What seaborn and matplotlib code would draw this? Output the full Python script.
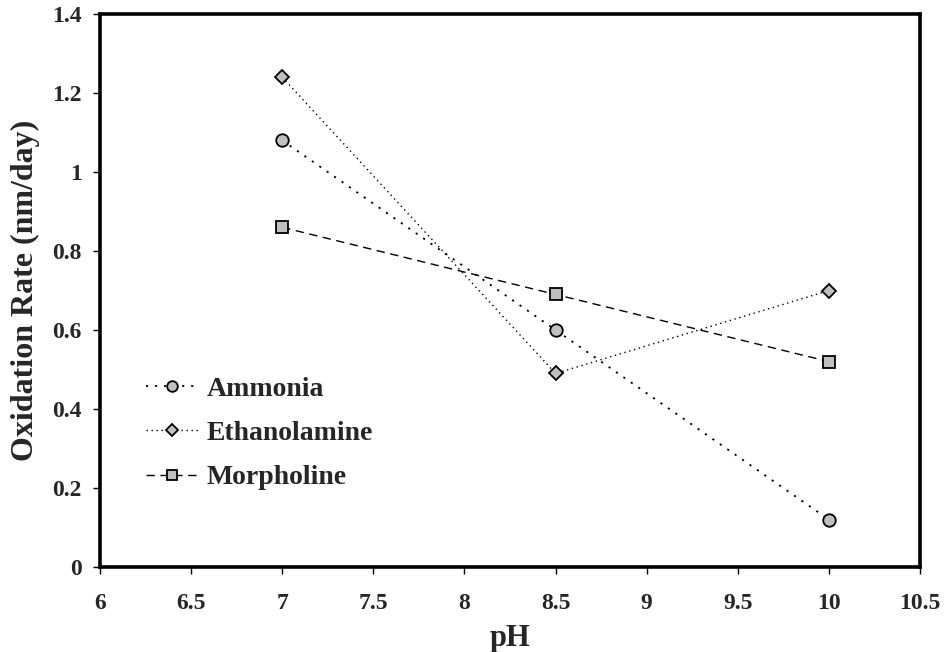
import matplotlib
matplotlib.use("Agg")
import matplotlib.pyplot as plt
import seaborn as sns
import pandas as pd

# Oxidation rate versus pH for three amine treatments
ph = [7.0, 8.5, 10.0]
ammonia = [1.08, 0.60, 0.12]
ethanolamine = [1.24, 0.49, 0.70]
morpholine = [0.86, 0.69, 0.52]

series_names = ["Ammonia", "Ethanolamine", "Morpholine"]
series_values = [ammonia, ethanolamine, morpholine]

x_ticks = [6, 6.5, 7, 7.5, 8, 8.5, 9, 9.5, 10, 10.5]
x_tick_labels = ["6", "6.5", "7", "7.5", "8", "8.5", "9", "9.5", "10", "10.5"]
y_ticks = [0, 0.2, 0.4, 0.6, 0.8, 1.0, 1.2, 1.4]
y_tick_labels = ["0", "0.2", "0.4", "0.6", "0.8", "1", "1.2", "1.4"]

sns.set_theme(style="white")
plt.rcParams["font.family"] = ["Liberation Serif", "DejaVu Serif"]
plt.rcParams["font.weight"] = "bold"

styles = {
    "Ammonia": dict(marker="o", markersize=9, linestyle=(0, (1.2, 3.8)), linewidth=1.3),
    "Ethanolamine": dict(marker="D", markersize=7, linestyle=(0, (1.0, 2.6)), linewidth=1.0),
    "Morpholine": dict(marker="s", markersize=9, linestyle=(0, (6, 4)), linewidth=1.0),
}

fig = plt.figure(figsize=(9.44, 6.52), dpi=100)
ax = fig.add_axes([100 / 944, 1 - 567 / 652, 820 / 944, 553 / 652])

for name, vals in zip(series_names, series_values):
    df = pd.DataFrame({"pH": ph, "rate": vals})
    st = styles[name]
    sns.lineplot(
        data=df, x="pH", y="rate", ax=ax, color="black",
        marker=st["marker"], markersize=st["markersize"],
        markerfacecolor="#c0c0c0", markeredgecolor="black", markeredgewidth=1.3,
        linestyle=st["linestyle"], linewidth=st["linewidth"], label=name,
    )

ax.set_xlim(6, 10.5)
ax.set_ylim(0, 1.4)
ax.set_xticks(x_ticks)
ax.set_xticklabels(x_tick_labels)
ax.set_yticks(y_ticks)
ax.set_yticklabels(y_tick_labels)
ax.tick_params(axis="both", which="major", labelsize=17, direction="out",
               length=5, width=1.0, color="black", bottom=True, left=True)
ax.tick_params(axis="x", pad=14)
ax.tick_params(axis="y", pad=8)
for lbl in ax.get_xticklabels() + ax.get_yticklabels():
    lbl.set_fontweight("bold")

ax.set_xlabel("pH", fontsize=22, fontweight="bold", labelpad=7)
ax.set_ylabel("Oxidation Rate (nm/day)", fontsize=23, fontweight="bold", labelpad=9)

for spine in ax.spines.values():
    spine.set_visible(True)
    spine.set_color("black")
    spine.set_linewidth(2.6)

ax.grid(False)
ax.set_facecolor("white")

leg = ax.legend(loc="upper left", bbox_to_anchor=(0.042, 0.365), frameon=False,
                prop={"family": ["Liberation Serif"], "weight": "bold", "size": 20},
                handlelength=1.9, handletextpad=0.3, labelspacing=0.68, borderaxespad=0,
                markerscale=0.85)

fig.savefig("out.png", dpi=100, facecolor="white")
